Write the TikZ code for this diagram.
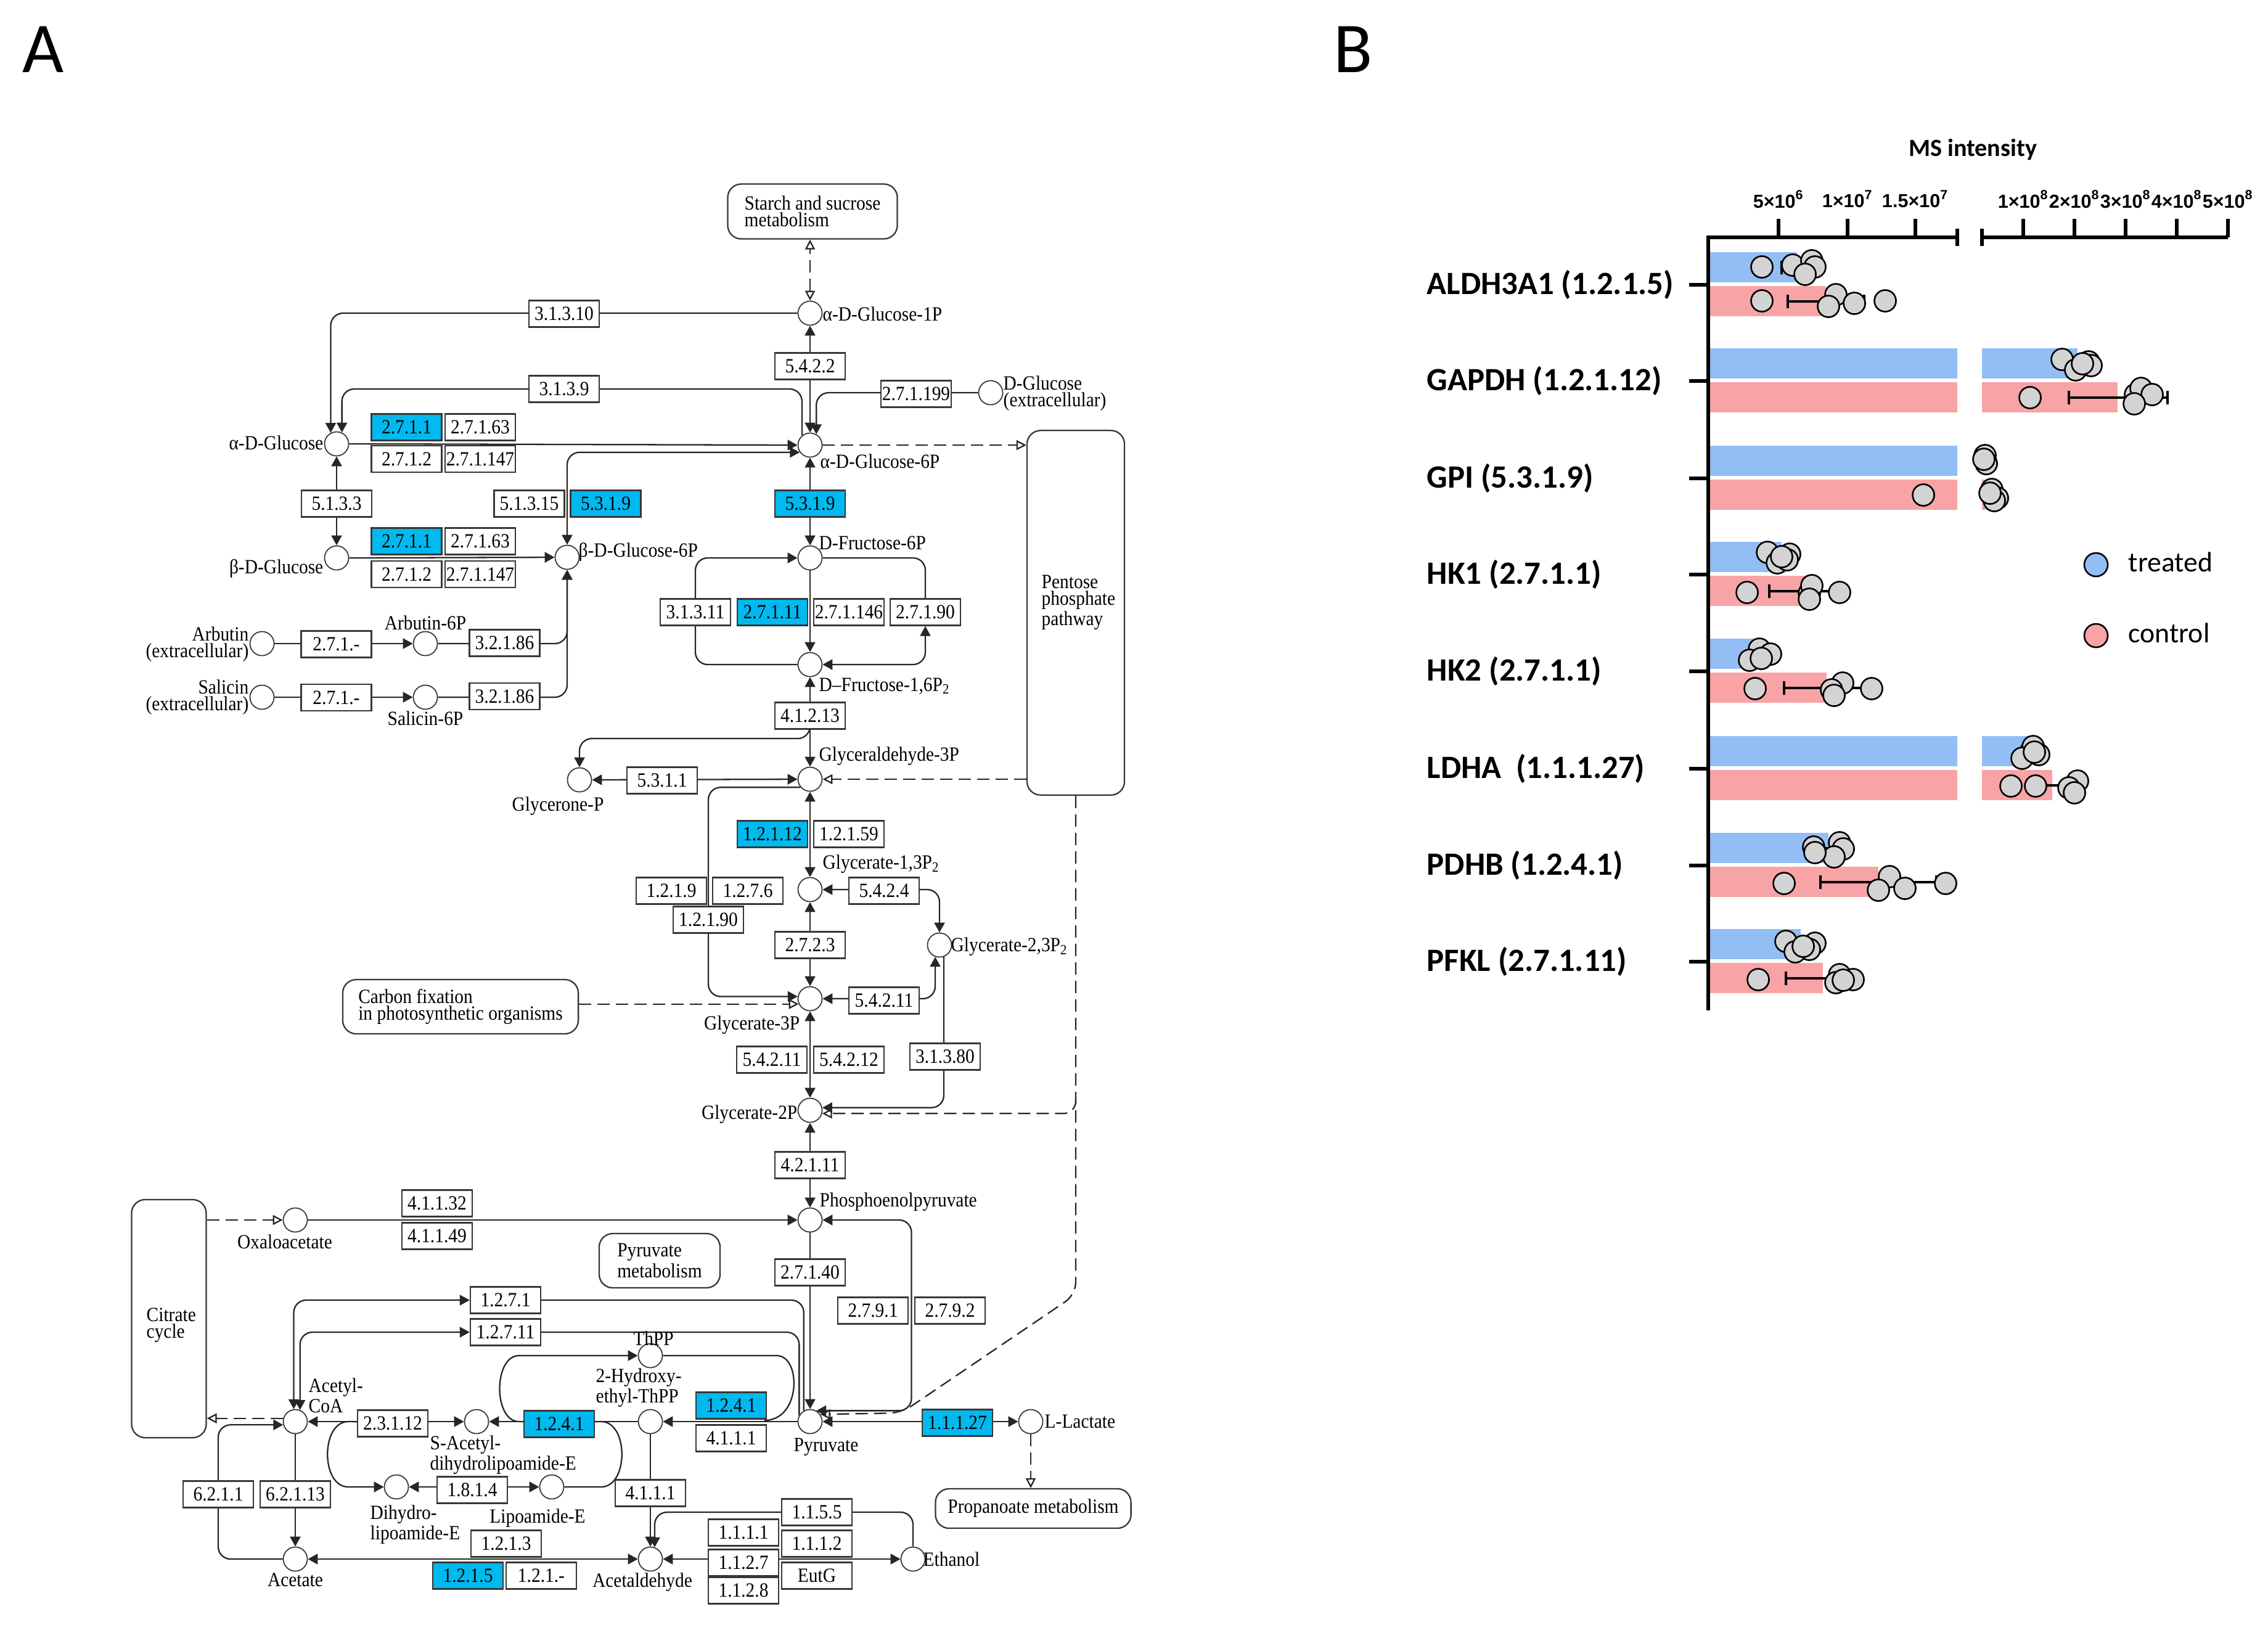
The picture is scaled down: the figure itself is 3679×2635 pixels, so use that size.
\documentclass[tikz,border=0pt]{standalone}
\usepackage{fontspec}
\setmainfont{Liberation Serif}
\newfontfamily\kegg[FakeStretch=0.9]{Liberation Serif}
\newfontfamily\calib{Carlito}
\newfontfamily\arialf{Liberation Sans}
\usetikzlibrary{arrows.meta,calc}
\pgfdeclarelayer{bg}
\pgfsetlayers{bg,main}
\definecolor{keggblue}{RGB}{0,185,238}
\definecolor{barblue}{RGB}{146,190,245}
\definecolor{barred}{RGB}{248,163,166}
\definecolor{dotgray}{RGB}{211,211,211}
\definecolor{boxgray}{RGB}{55,55,55}
\tikzset{
  kf/.style={font=\kegg\fontsize{9.3}{7.7}\selectfont},
  cpd/.style={circle, draw=boxgray, line width=0.5pt, fill=white, minimum size=0.39cm, inner sep=0pt},
  ecbox/.style={rectangle, draw=boxgray, line width=0.65pt, fill=white, minimum width=1.14cm, minimum height=0.43cm, inner sep=0pt, kf},
  ecblue/.style={ecbox, fill=keggblue},
  mapbox/.style={rectangle, rounded corners=0.22cm, draw=boxgray, line width=0.65pt, fill=white, kf, align=left, inner sep=0pt},
  lbl/.style={kf, inner sep=0pt},
  rx/.style={line width=0.65pt, draw=black!85, rounded corners=0.2cm},
  ar/.style={-{Triangle[length=0.16cm,width=0.17cm]}},
  arr/.style={{Triangle[length=0.16cm,width=0.17cm]}-{Triangle[length=0.16cm,width=0.17cm]}},
  dsh/.style={line width=0.65pt, draw=black!85, dash pattern=on 0.2cm off 0.1cm, rounded corners=0.2cm},
  oar/.style={-{Triangle[open,length=0.16cm,width=0.16cm]}},
  oarr/.style={{Triangle[open,length=0.16cm,width=0.16cm]}-{Triangle[open,length=0.16cm,width=0.16cm]}},
  catf/.style={font=\calib\bfseries\fontsize{15}{17}\selectfont, inner sep=0pt, anchor=west},
  tickf/.style={font=\arialf\bfseries\fontsize{8.7}{10}\selectfont, inner sep=0pt},
  axst/.style={line width=1.8pt},
  errst/.style={line width=1.1pt},
  dotst/.style={fill=dotgray, draw=black, line width=0.75pt},
}
\newcommand\mydot[2]{\filldraw[dotst] (#1,#2) circle[radius=0.175cm];}
\newcommand\errbar[3]{\draw[errst] (#1,#3) -- (#2,#3); \draw[errst] (#1,#3-11) -- (#1,#3+11); \draw[errst] (#2,#3-11) -- (#2,#3+11);}
\begin{document}
\begin{tikzpicture}[x=0.01cm,y=-0.01cm]
\useasboundingbox (0,0) rectangle (3679,2635);
% panel letters
\node[font=\calib\fontsize{33}{33}\selectfont, anchor=base west, inner sep=0pt] (pA) at (36,117) {A};
\node[font=\calib\fontsize{33}{33}\selectfont, anchor=base west, inner sep=0pt] (pB) at (2163,117) {B};

% ---------------- compounds
\node[cpd] (glc1p) at (1314,508) {};
\node[cpd] (aglc) at (546,720) {};
\node[cpd] (bglc) at (546,905) {};
\node[cpd] (glc6p) at (1314,722) {};
\node[cpd] (bglc6p) at (920,904) {};
\node[cpd] (dglcex) at (1607,637) {};
\node[cpd] (fru6p) at (1314,905) {};
\node[cpd] (fru16p) at (1314,1078) {};
\node[cpd] (g3p) at (1314,1264) {};
\node[cpd] (dhap) at (940,1265) {};
\node[cpd] (arb) at (425,1044) {};
\node[cpd] (arb6p) at (690,1044) {};
\node[cpd] (sal) at (425,1131) {};
\node[cpd] (sal6p) at (690,1131) {};
\node[cpd] (bpg) at (1314,1443) {};
\node[cpd] (bpg23) at (1524,1533) {};
\node[cpd] (pg3) at (1314,1620) {};
\node[cpd] (pg2) at (1314,1801) {};
\node[cpd] (pep) at (1314,1979) {};
\node[cpd] (oaa) at (479,1979) {};
\node[cpd] (pyr) at (1314,2306) {};
\node[cpd] (lac) at (1672,2306) {};
\node[cpd] (accoa) at (479,2306) {};
\node[cpd] (acet) at (479,2529) {};
\node[cpd] (sacl) at (773,2306) {};
\node[cpd] (dhl) at (643,2412) {};
\node[cpd] (lip) at (895,2412) {};
\node[cpd] (thpp) at (1055,2199) {};
\node[cpd] (hethpp) at (1055,2306) {};
\node[cpd] (acald) at (1055,2529) {};
\node[cpd] (etoh) at (1481,2529) {};

% ---------------- compound labels
\node[lbl,anchor=west] (l-glc1p) at (1334,509) {α-D-Glucose-1P};
\node[lbl,anchor=east] (l-aglc) at (525,718) {α-D-Glucose};
\node[lbl,anchor=east] (l-bglc) at (525,922) {β-D-Glucose};
\node[lbl,anchor=west] (l-glc6p) at (1330,748) {α-D-Glucose-6P};
\node[lbl,anchor=west] (l-bglc6p) at (938,895) {β-D-Glucose-6P};
\node[lbl,anchor=west,align=left] (l-dglcex) at (1627,638) {D-Glucose\\(extracellular)};
\node[lbl,anchor=west] (l-fru6p) at (1328,881) {D-Fructose-6P};
\node[lbl,anchor=west] (l-fru16p) at (1328,1113) {D–Fructose-1,6P\textsubscript{2}};
\node[lbl,anchor=west] (l-g3p) at (1328,1227) {Glyceraldehyde-3P};
\node[lbl,anchor=north] (l-dhap) at (905,1292) {Glycerone-P};
\node[lbl,anchor=east,align=right] (l-arb) at (404,1045) {Arbutin\\(extracellular)};
\node[lbl,anchor=south] (l-arb6p) at (690,1022) {Arbutin-6P};
\node[lbl,anchor=east,align=right] (l-sal) at (404,1131) {Salicin\\(extracellular)};
\node[lbl,anchor=north] (l-sal6p) at (690,1153) {Salicin-6P};
\node[lbl,anchor=west] (l-bpg) at (1334,1402) {Glycerate-1,3P\textsubscript{2}};
\node[lbl,anchor=west] (l-bpg23) at (1542,1536) {Glycerate-2,3P\textsubscript{2}};
\node[lbl,anchor=east] (l-pg3) at (1298,1663) {Glycerate-3P};
\node[lbl,anchor=east] (l-pg2) at (1294,1808) {Glycerate-2P};
\node[lbl,anchor=west] (l-pep) at (1329,1950) {Phosphoenolpyruvate};
\node[lbl,anchor=north] (l-oaa) at (462,2002) {Oxaloacetate};
\node[lbl,anchor=north] (l-pyr) at (1340,2332) {Pyruvate};
\node[lbl,anchor=west] (l-lac) at (1694,2306) {L-Lactate};
\node[lbl,anchor=south west,align=left] (l-accoa) at (500,2292) {Acetyl-\\CoA};
\node[lbl,anchor=north] (l-acet) at (479,2551) {Acetate};
\node[lbl,anchor=north west,align=left] (l-sacl) at (697,2328) {S-Acetyl-\\dihydrolipoamide-E};
\node[lbl,anchor=north west,align=left] (l-dhl) at (600,2441) {Dihydro-\\lipoamide-E};
\node[lbl,anchor=north] (l-lip) at (872,2447) {Lipoamide-E};
\node[lbl,anchor=south] (l-thpp) at (1060,2183) {ThPP};
\node[lbl,anchor=south west,align=left] (l-hethpp) at (966,2283) {2-Hydroxy-\\ethyl-ThPP};
\node[lbl,anchor=north] (l-acald) at (1042,2551) {Acetaldehyde};
\node[lbl,anchor=west] (l-etoh) at (1497,2529) {Ethanol};

% ---------------- map boxes
\node[mapbox, minimum width=2.75cm, minimum height=0.89cm] (starch) at (1318,343) {Starch and sucrose\\metabolism};
\node[mapbox, minimum width=1.58cm, minimum height=5.91cm] (pentose) at (1745,994) {};
\node[lbl, anchor=north west, align=left] (t-pentose) at (1689,932) {Pentose\\phosphate\\pathway};
\node[mapbox, minimum width=3.82cm, minimum height=0.88cm] (carbfix) at (747,1633) {Carbon fixation\\in photosynthetic organisms};
\node[mapbox, minimum width=1.21cm, minimum height=3.86cm] (citrate) at (274,2139) {};
\node[lbl, align=left, anchor=west] (t-citrate) at (237,2150) {Citrate\\cycle};
\node[mapbox, minimum width=1.96cm, minimum height=0.88cm] (pyrmet) at (1070,2045) {Pyruvate\\metabolism};
\node[mapbox, minimum width=3.17cm, minimum height=0.64cm, align=center] (propan) at (1676,2447) {Propanoate metabolism};

% ---------------- enzyme boxes
\node[ecbox] (e31310) at (915,509) {3.1.3.10};
\node[ecbox] (e3139) at (915,631) {3.1.3.9};
\node[ecblue] (e2711a) at (659.5,693) {2.7.1.1};
\node[ecbox] (e27163a) at (779,693) {2.7.1.63};
\node[ecbox] (e2712a) at (659.5,744.5) {2.7.1.2};
\node[ecbox] (e271147a) at (779,744.5) {2.7.1.147};
\node[ecbox] (e5133) at (546,817) {5.1.3.3};
\node[ecblue] (e2711b) at (659.5,878) {2.7.1.1};
\node[ecbox] (e27163b) at (779,878) {2.7.1.63};
\node[ecbox] (e2712b) at (659.5,931.5) {2.7.1.2};
\node[ecbox] (e271147b) at (779,931.5) {2.7.1.147};
\node[ecbox] (e51315) at (858.5,817) {5.1.3.15};
\node[ecblue] (e5319a) at (982.5,817) {5.3.1.9};
\node[ecbox] (e5422) at (1314,594) {5.4.2.2};
\node[ecbox] (e271199) at (1486,639) {2.7.1.199};
\node[ecblue] (e5319b) at (1314,817) {5.3.1.9};
\node[ecbox] (e27a) at (545.5,1045) {2.7.1.-};
\node[ecbox] (e32186a) at (818.5,1043) {3.2.1.86};
\node[ecbox] (e27b) at (545.5,1131.5) {2.7.1.-};
\node[ecbox] (e32186b) at (818.5,1129.5) {3.2.1.86};
\node[ecbox] (e31311) at (1128,993) {3.1.3.11};
\node[ecblue] (e27111) at (1253,993) {2.7.1.11};
\node[ecbox] (e271146) at (1377,993) {2.7.1.146};
\node[ecbox] (e27190) at (1501,993) {2.7.1.90};
\node[ecbox] (e41213) at (1314,1161) {4.1.2.13};
\node[ecbox] (e5311) at (1074,1266) {5.3.1.1};
\node[ecblue] (e12112) at (1253,1353) {1.2.1.12};
\node[ecbox] (e12159) at (1377,1353) {1.2.1.59};
\node[ecbox] (e1219) at (1089,1445) {1.2.1.9};
\node[ecbox] (e1276) at (1213,1445) {1.2.7.6};
\node[ecbox] (e12190) at (1149,1492) {1.2.1.90};
\node[ecbox] (e5424) at (1434,1445) {5.4.2.4};
\node[ecbox] (e2723) at (1314,1533) {2.7.2.3};
\node[ecbox] (e54211a) at (1434,1623) {5.4.2.11};
\node[ecbox] (e54211b) at (1252,1719) {5.4.2.11};
\node[ecbox] (e54212) at (1377,1719) {5.4.2.12};
\node[ecbox] (e31380) at (1533,1714) {3.1.3.80};
\node[ecbox] (e42111) at (1314,1890) {4.2.1.11};
\node[ecbox] (e41132) at (709,1952) {4.1.1.32};
\node[ecbox] (e41149) at (709,2005) {4.1.1.49};
\node[ecbox] (e27140) at (1314,2064) {2.7.1.40};
\node[ecbox] (e2791) at (1416,2126) {2.7.9.1};
\node[ecbox] (e2792) at (1541,2126) {2.7.9.2};
\node[ecbox] (e1271) at (820,2109) {1.2.7.1};
\node[ecbox] (e12711) at (820,2161) {1.2.7.11};
\node[ecblue] (e1241a) at (1186,2280) {1.2.4.1};
\node[ecbox] (e4111a) at (1186,2333) {4.1.1.1};
\node[ecblue] (e11127) at (1553,2308) {1.1.1.27};
\node[ecbox] (e23112) at (637,2309) {2.3.1.12};
\node[ecblue] (e1241b) at (907,2310) {1.2.4.1};
\node[ecbox] (e1814) at (766,2417) {1.8.1.4};
\node[ecbox] (e6211) at (354,2424) {6.2.1.1};
\node[ecbox] (e62113) at (479,2424) {6.2.1.13};
\node[ecbox] (e4111b) at (1055,2422) {4.1.1.1};
\node[ecbox] (e1213) at (821,2504) {1.2.1.3};
\node[ecblue] (e1215) at (759,2556) {1.2.1.5};
\node[ecbox] (e121x) at (878,2556) {1.2.1.-};
\node[ecbox] (e1111) at (1206,2486) {1.1.1.1};
\node[ecbox] (e1127) at (1206,2535) {1.1.2.7};
\node[ecbox] (e1128) at (1206,2580) {1.1.2.8};
\node[ecbox] (e1155) at (1325,2453) {1.1.5.5};
\node[ecbox] (e1112) at (1325,2504) {1.1.1.2};
\node[ecbox] (eEutG) at (1325,2556) {EutG};

\coordinate (dhapbr) at (1120,1198);
\coordinate (pp1) at (1745,2100);
\coordinate (pp2) at (1462,2292);
\coordinate (pepc) at ($(e2791.east)!0.5!(e2792.west)$);

% ---------------- connectors
\begin{pgfonlayer}{bg}
\draw[dsh,oarr] (glc1p.north) -- (glc1p |- starch.south);
\draw[rx,ar] (glc1p.west) -| (aglc.118);
\draw[rx,ar] (glc6p.130) |- (e3139) -| (aglc.65);
\draw[rx,arr] (glc1p) -- (glc6p);
\draw[rx,ar] (dglcex.west) -| (glc6p.60);
\draw[rx,ar] (aglc.east) -- (glc6p.west);
\draw[rx,arr] (bglc6p.north) |- (glc6p.215);
\draw[rx,arr] (aglc) -- (bglc);
\draw[rx,ar] (bglc.east) -- (bglc6p.west);
\draw[rx,arr] (glc6p) -- (fru6p);
\draw[rx,ar] (arb) -- (arb6p);
\draw[rx,ar] (arb6p.east) -| (bglc6p.south);
\draw[rx,ar] (sal) -- (sal6p);
\draw[rx,ar] (sal6p.east) -| (bglc6p.south);
\draw[dsh,oar] (glc6p.east) -- (glc6p.east -| pentose.west);
\draw[rx,ar] (fru16p.west) -| (e31311) |- (fru6p.west);
\draw[rx,arr] (fru6p.east) -| (e27190) |- (fru16p.east);
\draw[rx,ar] (fru6p) -- (fru16p);
\draw[rx,arr] (fru16p) -- (g3p);
\draw[rx,ar] (e41213.center) |- (dhapbr) -| (dhap.north);
\draw[rx,arr] (g3p.west) -- (dhap.east);
\draw[dsh,oar] (g3p.east -| pentose.west) -- (g3p.east);
\draw[dsh,oar] (pentose.south) -- (pp1) -- (pp2) -- (pyr.35);
\draw[dsh,oar] ($(pentose.south |- pg2.-15)+(0,-25)$) |- (pg2.-15);
\draw[rx,arr] (g3p) -- (bpg);
\draw[rx,ar] (g3p.220) -| (e12190) |- (pg3.170);
\draw[rx,arr] (bpg.east) -| (bpg23.north);
\draw[rx,arr] (bpg) -- (pg3);
\draw[rx,arr] (pg3.east) -| (bpg23.250);
\draw[rx,ar] (bpg23.290) |- (pg2.12);
\draw[rx,arr] (pg3) -- (pg2);
\draw[rx,arr] (pg2) -- (pep);
\draw[dsh,oar] (pg3.205 -| carbfix.east) -- (pg3.205);
\draw[rx,ar] (oaa.east) -- (pep.west);
\draw[dsh,oar] (oaa.west -| citrate.east) -- (oaa.west);
\draw[rx,arr] (pep.east) -| (pepc) |- (pyr.60);
\draw[rx,ar] (pep) -- (pyr);
\draw[rx,arr] (pyr.120) |- (e1271) -| (accoa.97);
\draw[rx,arr] (pyr.150) |- (e12711) -| (accoa.68);
\draw[rx,ar] (pyr.west) -- (hethpp.east);
\draw[rx] (thpp.east) -- (1240,2199) .. controls (1300,2199) and (1300,2304) .. (1240,2304);
\draw[rx,ar] (hethpp.west) -- (sacl.east);
\draw[rx,ar] (e1241b.center) -- (862,2306) .. controls (800,2306) and (800,2199) .. (862,2199) -- (thpp.west);
\draw[rx] (e1241b.center) -- (955,2306) .. controls (1020,2306) and (1020,2412) .. (955,2412) -- (lip.east);
\draw[rx,arr] (sacl.west) -- (accoa.east);
\draw[rx,ar] (e23112.center) -- (585,2306) .. controls (520,2306) and (520,2412) .. (585,2412) -- (dhl.west);
\draw[rx,arr] (dhl.east) -- (lip.west);
\draw[rx,ar] (accoa) -- (acet);
\draw[rx,ar] (acet.west) -| (e6211) |- (accoa.195);
\draw[dsh,oar] (accoa.165) -- (accoa.165 -| citrate.east);
\draw[rx,ar] (hethpp) -- (acald);
\draw[rx,arr] (acald.west) -- (acet.east);
\draw[rx,arr] (acald.east) -- (etoh.west);
\draw[rx,ar] (etoh.north) |- (e1155) -| (acald.70);
\draw[rx,arr] (pyr.east) -- (lac.west);
\draw[dsh,oar] (lac.south) -- (lac.south |- propan.north);
\end{pgfonlayer}

% ================= Panel B
\node[font=\calib\bfseries\fontsize{11.4}{13}\selectfont, inner sep=0pt] (msint) at (3200,243) {MS intensity};
\node[tickf] (tk1) at (2885,323) {5×10\textsuperscript{6}};
\node[tickf] (tk2) at (2997,323) {1×10\textsuperscript{7}};
\node[tickf] (tk3) at (3107,323) {1.5×10\textsuperscript{7}};
\node[tickf] (tk4) at (3282,323) {1×10\textsuperscript{8}};
\node[tickf] (tk5) at (3365,323) {2×10\textsuperscript{8}};
\node[tickf] (tk6) at (3448,323) {3×10\textsuperscript{8}};
\node[tickf] (tk7) at (3531,323) {4×10\textsuperscript{8}};
\node[tickf] (tk8) at (3614,323) {5×10\textsuperscript{8}};

% bars
% ALDH3A1
\fill[barblue] (2771,409) rectangle (2915,458);
\fill[barred] (2771,464) rectangle (2962,513);
% GAPDH
\fill[barblue] (2771,565) rectangle (3175,614);
\fill[barblue] (3215,565) rectangle (3370,614);
\fill[barred] (2771,620) rectangle (3175,669);
\fill[barred] (3215,620) rectangle (3435,669);
% GPI
\fill[barblue] (2771,723) rectangle (3175,772);
\fill[barred] (2771,778) rectangle (3175,827);
\fill[barred] (3215,778) rectangle (3226,827);
% HK1
\fill[barblue] (2771,879) rectangle (2890,928);
\fill[barred] (2771,934) rectangle (2930,983);
% HK2
\fill[barblue] (2771,1036) rectangle (2854,1085);
\fill[barred] (2771,1091) rectangle (2963,1140);
% LDHA
\fill[barblue] (2771,1194) rectangle (3175,1243);
\fill[barblue] (3215,1194) rectangle (3289,1243);
\fill[barred] (2771,1249) rectangle (3175,1298);
\fill[barred] (3215,1249) rectangle (3329,1298);
% PDHB
\fill[barblue] (2771,1351) rectangle (2966,1400);
\fill[barred] (2771,1406) rectangle (3047,1455);
% PFKL
\fill[barblue] (2771,1507) rectangle (2921,1556);
\fill[barred] (2771,1562) rectangle (2957,1611);

% error bars
\errbar{2890}{2940}{434}
\errbar{2900}{3024}{489}
\errbar{3350}{3390}{590}
\errbar{3356}{3516}{645}
\errbar{2875}{2905}{904}
\errbar{2870}{2990}{959}
\errbar{2840}{2868}{1061}
\errbar{2894}{3032}{1116}
\errbar{3280}{3300}{1219}
\errbar{3290}{3368}{1274}
\errbar{2950}{2982}{1376}
\errbar{2953}{3141}{1431}
\errbar{2905}{2937}{1532}
\errbar{2897}{3017}{1587}

% dots
\mydot{2858}{433}\mydot{2908}{430}\mydot{2939}{423}\mydot{2944}{433}\mydot{2928}{445}
\mydot{2858}{488}\mydot{2978}{478}\mydot{2966}{497}\mydot{3008}{492}\mydot{3058}{488}
\mydot{3345}{583}\mydot{3388}{587}\mydot{3392}{593}\mydot{3367}{600}\mydot{3378}{590}
\mydot{3293}{645}\mydot{3464}{640}\mydot{3473}{630}\mydot{3491}{640}\mydot{3462}{655}
\mydot{3220}{739}\mydot{3222}{752}\mydot{3218}{745}
\mydot{3120}{803}\mydot{3231}{794}\mydot{3240}{808}\mydot{3235}{812}\mydot{3228}{800}
\mydot{2867}{896}\mydot{2903}{899}\mydot{2883}{913}\mydot{2899}{908}\mydot{2890}{903}
\mydot{2834}{961}\mydot{2935}{962}\mydot{2939}{950}\mydot{2935}{972}\mydot{2984}{961}
\mydot{2854}{1053}\mydot{2872}{1061}\mydot{2838}{1071}\mydot{2857}{1068}
\mydot{2847}{1117}\mydot{2989}{1108}\mydot{2971}{1119}\mydot{2975}{1128}\mydot{3036}{1117}
\mydot{3298}{1211}\mydot{3307}{1224}\mydot{3280}{1230}\mydot{3300}{1220}
\mydot{3262}{1275}\mydot{3302}{1275}\mydot{3370}{1267}\mydot{3356}{1278}\mydot{3365}{1286}
\mydot{2942}{1374}\mydot{2984}{1367}\mydot{2990}{1377}\mydot{2975}{1390}\mydot{2944}{1383}
\mydot{2894}{1433}\mydot{3065}{1422}\mydot{3047}{1444}\mydot{3090}{1441}\mydot{3156}{1433}
\mydot{2897}{1527}\mydot{2944}{1530}\mydot{2935}{1540}\mydot{2912}{1544}\mydot{2925}{1535}
\mydot{2852}{1589}\mydot{2984}{1581}\mydot{2978}{1594}\mydot{3006}{1589}\mydot{2990}{1590}

% axes
\draw[axst] (2771,1639) -- (2771,385) -- (3175,385);
\draw[axst] (3175,371) -- (3175,399);
\draw[axst] (3215,371) -- (3215,399);
\draw[axst] (3215,385) -- (3614,385);
\foreach \xx in {2885,2997,3107,3282,3365,3448,3531,3614} \draw[axst] (\xx,385) -- (\xx,355);

% categories
\foreach \yy/\tt [count=\i] in {462/ALDH3A1 (1.2.1.5), 618/GAPDH (1.2.1.12), 776/GPI (5.3.1.9), 932/HK1 (2.7.1.1), 1089/HK2 (2.7.1.1), 1247/LDHA\ \ (1.1.1.27), 1404/PDHB (1.2.4.1), 1560/PFKL (2.7.1.11)} {
  \draw[axst] (2740,\yy) -- (2771,\yy);
  \node[catf] (cat\i) at (2314,\yy) {\tt};
}

% legend
\filldraw[fill=barblue, draw=black, line width=0.75pt] (3400,916) circle[radius=0.19cm];
\filldraw[fill=barred, draw=black, line width=0.75pt] (3400,1031) circle[radius=0.19cm];
\node[font=\calib\fontsize{13}{15}\selectfont, anchor=west, inner sep=0pt] (lg1) at (3452,912) {treated};
\node[font=\calib\fontsize{13}{15}\selectfont, anchor=west, inner sep=0pt] (lg2) at (3452,1027) {control};
\end{tikzpicture}
\end{document}
